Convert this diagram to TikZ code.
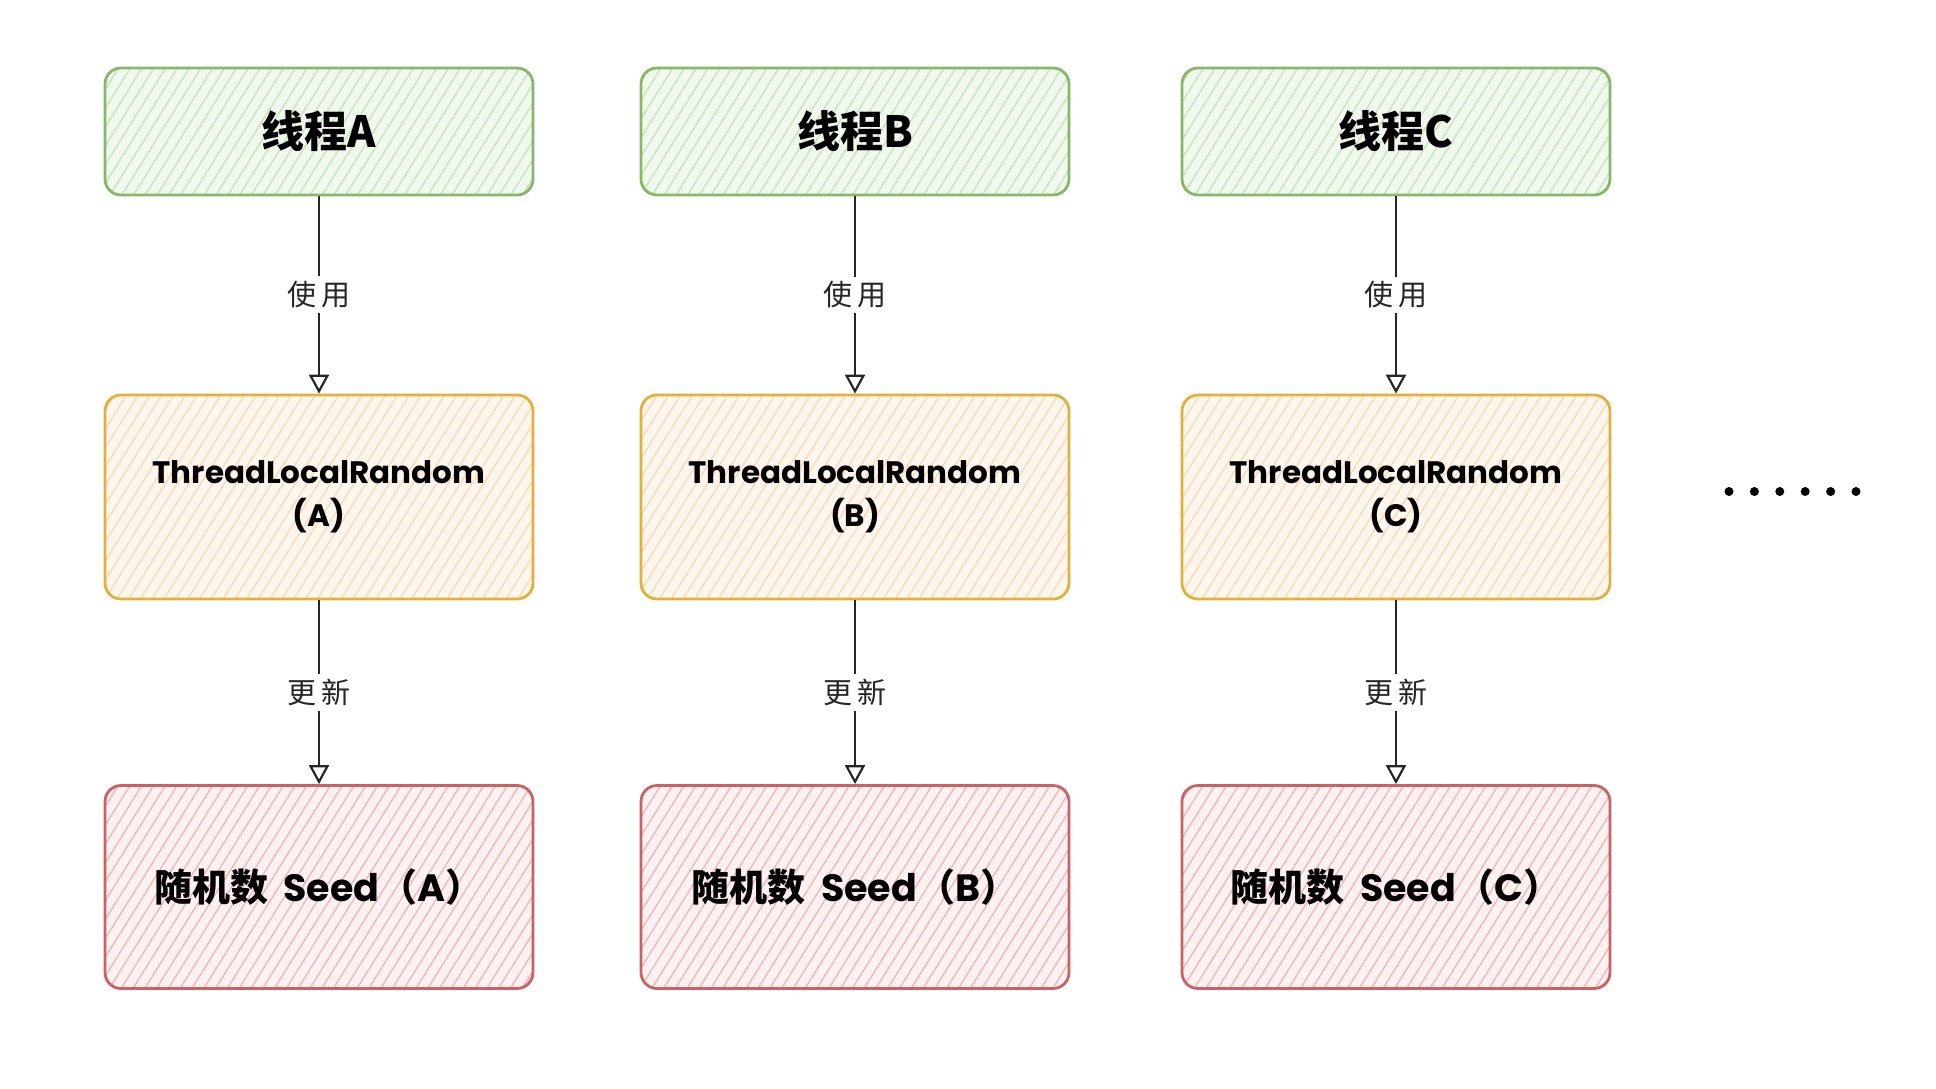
\documentclass[tikz,border=0pt]{standalone}
\usepackage{fontspec}
\setmainfont{Poppins}
\newfontfamily\cjk{Noto Sans CJK SC}
\usetikzlibrary{patterns.meta,arrows.meta}
\definecolor{gstroke}{HTML}{86B86A}
\definecolor{gfill}{HTML}{F1F8EE}
\definecolor{ghatch}{HTML}{C9E3BF}
\definecolor{ystroke}{HTML}{E2B03C}
\definecolor{yfill}{HTML}{FFF7EE}
\definecolor{yhatch}{HTML}{FBD9B6}
\definecolor{rstroke}{HTML}{C96262}
\definecolor{rfill}{HTML}{FDF1F1}
\definecolor{rhatch}{HTML}{F3B7B7}
\tikzset{
  sketchbox/.style={draw=#1stroke, line width=2.8pt, rounded corners=16pt,
    preaction={fill=#1fill},
    pattern={Lines[angle=58,distance=10pt,line width=1.4pt]}, pattern color=#1hatch,
    minimum width=428pt, inner sep=0pt, align=center, text=black},
  threadbox/.style={sketchbox=g, minimum height=127pt, font=\cjk\bfseries\fontsize{43}{48}\selectfont},
  tlrbox/.style={sketchbox=y, minimum height=204pt, font=\bfseries\fontsize{31}{43}\selectfont},
  seedbox/.style={sketchbox=r, minimum height=203pt, font=\bfseries\fontsize{38}{44}\selectfont},
  conn/.style={draw=black!85, line width=2.5pt, -{Triangle[open,length=19pt,width=20pt,line width=2.2pt]}},
  lbl/.style={fill=white, inner sep=5pt, font=\cjk\fontsize{29}{32}\selectfont, text=black!85}
}
\begin{document}
\begin{tikzpicture}[x=1pt,y=-1pt]
\useasboundingbox[fill=white] (0,0) rectangle (1936,1088);
\foreach \c/\x in {A/319, B/855, C/1396}{
  \node[threadbox] (t\c) at (\x,131.5) {线程\c};
  \node[tlrbox] (r\c) at (\x,497) {ThreadLocalRandom\\(\c)};
  \node[seedbox] (s\c) at (\x,887) {{\cjk 随机数}\hspace{0.4em}Seed{\cjk （}\c{\cjk ）}};
  \draw[conn] (t\c) -- node[lbl] {使\,用} (r\c);
  \draw[conn] (r\c) -- node[lbl, pos=0.5] {更\,新} (s\c);
}
\foreach \i in {0,...,5}{
  \fill (1729+\i*25.4,491.5) circle (4.5pt);
}
\end{tikzpicture}
\end{document}
